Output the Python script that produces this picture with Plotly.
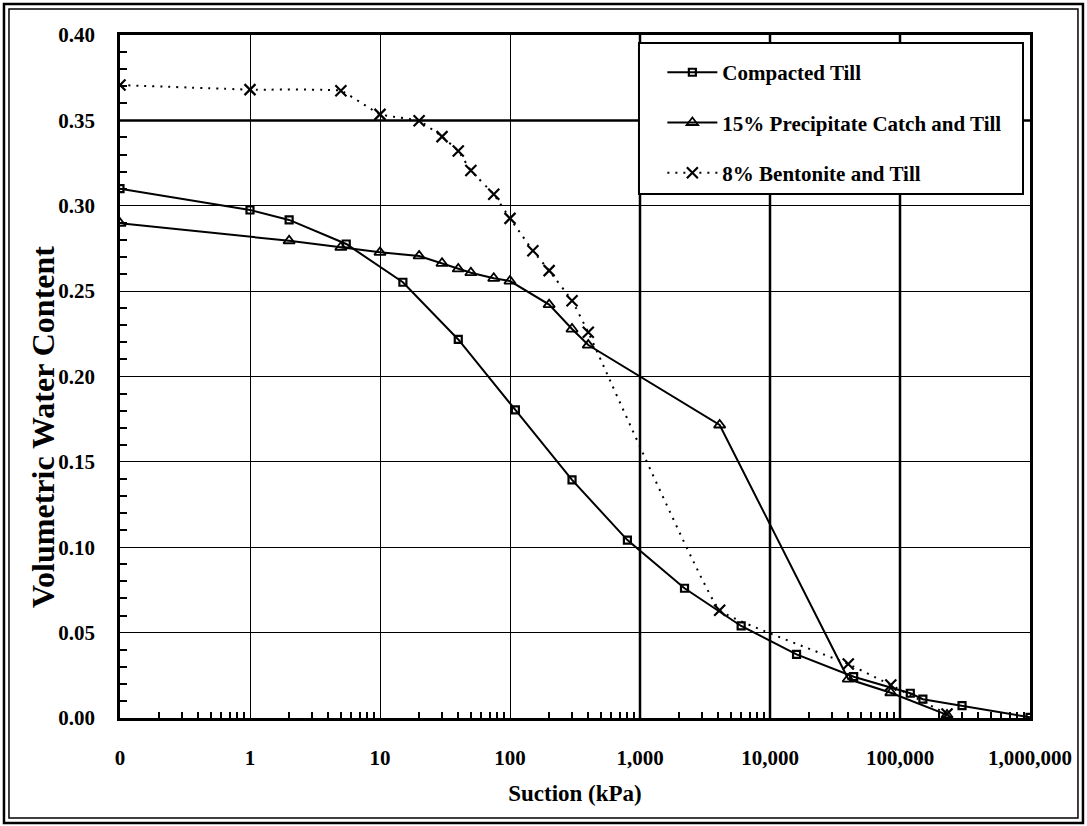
import plotly.graph_objects as go

# ---------------- data ----------------
till_x = [0.1, 1, 2, 5.5, 15, 40, 110, 300, 800, 2200, 6000, 16000, 44000,
          120000, 150000, 300000, 1000000]
till_y = [0.310, 0.2975, 0.2917, 0.2776, 0.2552, 0.2217, 0.1804, 0.1394, 0.1042,
          0.076, 0.0539, 0.0373, 0.0242, 0.0145, 0.011, 0.0072, 0.0004]

precip_x = [0.1, 2, 5, 10, 20, 30, 40, 50, 75, 100, 200, 300, 400, 4100,
            40000, 85000, 230000]
precip_y = [0.2897, 0.2795, 0.2757, 0.2727, 0.2706, 0.2663, 0.263, 0.2608, 0.2575,
            0.2559, 0.2421, 0.2278, 0.2184, 0.1716, 0.0228, 0.0148, 0.0018]

bent_x = [0.1, 1, 5, 10, 20, 30, 40, 50, 75, 100, 150, 200, 300, 400, 4100,
          40000, 85000, 230000]
bent_y = [0.3707, 0.368, 0.3674, 0.3535, 0.3498, 0.3405, 0.3321, 0.3206, 0.3067,
          0.2926, 0.2737, 0.262, 0.2444, 0.2259, 0.0631, 0.0316, 0.0193, 0.0023]

x_tickvals = [0.1, 1, 10, 100, 1000, 10000, 100000, 1000000]
x_ticktext = ["0", "1", "10", "100", "1,000", "10,000", "100,000", "1,000,000"]
names = ["Compacted Till", "15% Precipitate Catch and Till", "8% Bentonite and Till"]
x_title = "Suction (kPa)"
y_title = "Volumetric Water Content"

FONT = "Liberation Serif, Times New Roman, serif"
BLACK = "#000000"

fig = go.Figure()

fig.add_trace(go.Scatter(
    x=till_x, y=till_y, mode="lines+markers", name=names[0], legendgroup="a",
    line=dict(color=BLACK, width=2),
    marker=dict(symbol="square-open", size=7, color=BLACK, line=dict(width=2.2, color=BLACK)),
))
fig.add_trace(go.Scatter(
    x=precip_x, y=precip_y, mode="lines+markers", name=names[1], legendgroup="b",
    line=dict(color=BLACK, width=2),
    marker=dict(symbol="triangle-up-open", size=10, color=BLACK, line=dict(width=1.8, color=BLACK)),
))
fig.add_trace(go.Scatter(
    x=bent_x, y=bent_y, mode="lines+markers", name=names[2], legendgroup="c",
    line=dict(color=BLACK, width=2, dash="2px,6px", shape="spline", smoothing=0.25),
    marker=dict(symbol="x-thin-open", size=11, color=BLACK, line=dict(width=2.2, color=BLACK)),
))

minor_x = [m * d for d in [0.1, 1, 10, 100, 1000, 10000, 100000] for m in range(2, 10)]

shapes = []
# thicker grid lines as in the reference
for xv in [1000, 10000, 100000]:
    shapes.append(dict(type="line", xref="x", yref="paper", x0=xv, x1=xv, y0=0, y1=1,
                       line=dict(color=BLACK, width=2.5), layer="below"))
shapes.append(dict(type="line", xref="paper", yref="y", x0=0, x1=1, y0=0.35, y1=0.35,
                   line=dict(color=BLACK, width=2.5), layer="below"))
# legend box
shapes.append(dict(type="rect", xref="paper", yref="paper", x0=0.5703, x1=0.9923,
                   y0=0.7672, y1=0.9883, fillcolor="white",
                   line=dict(color=BLACK, width=2), layer="above"))
# double frame around figure
shapes.append(dict(type="rect", xref="paper", yref="paper", x0=-0.1275, x1=1.0582,
                   y0=-0.1537, y1=1.0454, line=dict(color=BLACK, width=2.5)))
shapes.append(dict(type="rect", xref="paper", yref="paper", x0=-0.122, x1=1.0527,
                   y0=-0.1464, y1=1.0381, line=dict(color=BLACK, width=1.5)))

fig.update_layout(
    width=1087, height=826,
    margin=dict(l=120, r=57, t=35, b=108),
    paper_bgcolor="white", plot_bgcolor="white",
    font=dict(family=FONT, size=21, color=BLACK, weight="bold"),
    shapes=shapes,
    legend=dict(x=0.596, y=0.975, xanchor="left", yanchor="top", itemwidth=50,
                bgcolor="rgba(0,0,0,0)", borderwidth=0, tracegroupgap=20,
                font=dict(family=FONT, size=21, color=BLACK, weight="bold")),
    annotations=[dict(text=y_title, textangle=-90, xref="paper", yref="paper",
                      x=-0.0846, y=0.426, xanchor="center", yanchor="middle",
                      showarrow=False,
                      font=dict(family=FONT, size=32, color=BLACK, weight="bold"))],
    xaxis=dict(
        type="log", range=[-1, 6],
        tickvals=x_tickvals, ticktext=x_ticktext,
        showgrid=True, gridcolor=BLACK, gridwidth=1,
        showline=True, linecolor=BLACK, linewidth=2.5, mirror=True,
        ticks="", ticklabelstandoff=19,
        minor=dict(tickvals=minor_x, ticks="inside", ticklen=6, tickwidth=2,
                   tickcolor=BLACK, showgrid=False),
        title=dict(text=x_title, standoff=16,
                   font=dict(family=FONT, size=23, weight="bold")),
        zeroline=False,
    ),
    yaxis=dict(
        range=[0, 0.40], dtick=0.05, tickformat=".2f",
        showgrid=True, gridcolor=BLACK, gridwidth=1,
        showline=True, linecolor=BLACK, linewidth=2.5, mirror=True,
        ticks="", ticklabelstandoff=18,
        minor=dict(dtick=0.01, ticks="inside", ticklen=7, tickwidth=2,
                   tickcolor=BLACK, showgrid=False),
        zeroline=False,
    ),
)

fig.write_html("out.html", config={"displayModeBar": False},
               post_script="document.body.style.margin='0px';")
